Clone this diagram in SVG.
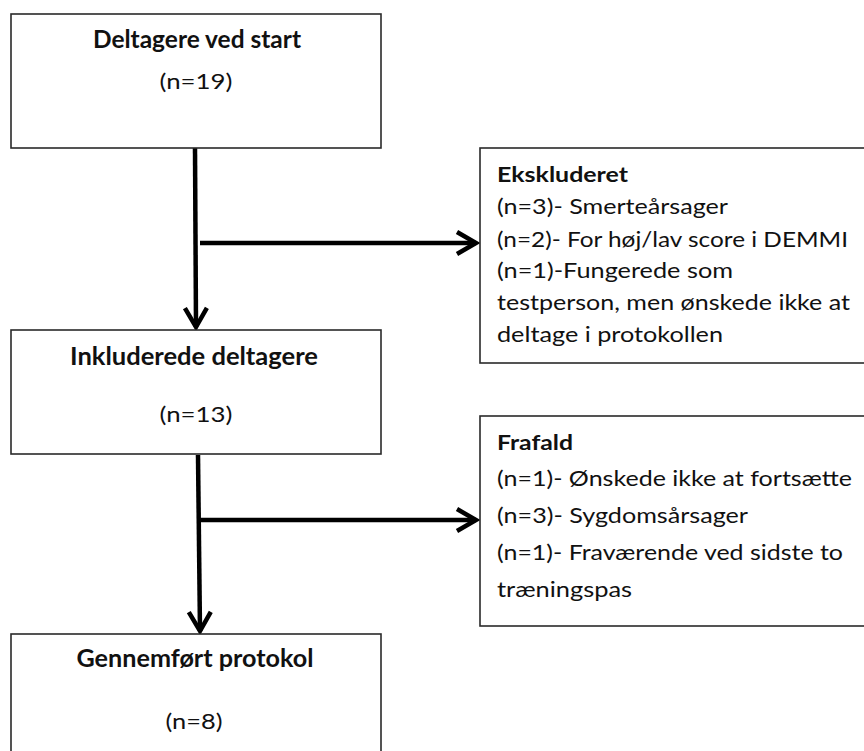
<svg xmlns="http://www.w3.org/2000/svg" width="864" height="751" viewBox="0 0 864 751">
<style>
.box{fill:#fff;stroke:#2a2a2a;stroke-width:1.6}
.t{font-family:Lato,"Liberation Sans",Arial,sans-serif;fill:#111}
.b{font-weight:bold}
.c{text-anchor:middle}
.conn{fill:none;stroke:#000;stroke-width:4.5}
</style>
<defs>
<marker id="ah" markerUnits="userSpaceOnUse" markerWidth="30" markerHeight="30" viewBox="-24 -15 28 30" refX="0" refY="0" orient="auto">
<path d="M-19,-11 L0,0 L-19,11" fill="none" stroke="#000" stroke-width="4.5" stroke-linejoin="miter"/>
</marker>
</defs>
<rect width="864" height="751" fill="#fff"/>
<g id="connectors">
<line class="conn" x1="195" y1="148" x2="196" y2="327" marker-end="url(#ah)"/>
<line class="conn" x1="200" y1="243" x2="476" y2="243" marker-end="url(#ah)"/>
<line class="conn" x1="198" y1="455" x2="200" y2="631" marker-end="url(#ah)"/>
<line class="conn" x1="200" y1="520" x2="476" y2="520" marker-end="url(#ah)"/>
</g>
<g id="start">
<rect class="box" x="11" y="14" width="370" height="134"/>
<text class="t b c" x="197" y="48" font-size="24" textLength="208" lengthAdjust="spacingAndGlyphs">Deltagere ved start</text>
<text class="t c" x="196" y="89" font-size="22" textLength="73" lengthAdjust="spacingAndGlyphs">(n=19)</text>
</g>
<g id="included">
<rect class="box" x="11" y="330" width="370" height="124"/>
<text class="t b c" x="194" y="365" font-size="24" textLength="248" lengthAdjust="spacingAndGlyphs">Inkluderede deltagere</text>
<text class="t c" x="196" y="422" font-size="22" textLength="73" lengthAdjust="spacingAndGlyphs">(n=13)</text>
</g>
<g id="completed">
<rect class="box" x="11" y="634" width="370" height="130"/>
<text class="t b c" x="195" y="667" font-size="24" textLength="237" lengthAdjust="spacingAndGlyphs">Gennemført protokol</text>
<text class="t c" x="194" y="729" font-size="22" textLength="57" lengthAdjust="spacingAndGlyphs">(n=8)</text>
</g>
<g id="excluded">
<rect class="box" x="480" y="148" width="390" height="215"/>
<text class="t b" x="497" y="182" font-size="21" textLength="131" lengthAdjust="spacingAndGlyphs">Ekskluderet</text>
<text class="t" x="497" y="214" font-size="21" textLength="231" lengthAdjust="spacingAndGlyphs">(n=3)- Smerteårsager</text>
<text class="t" x="497" y="247" font-size="21" textLength="351" lengthAdjust="spacingAndGlyphs">(n=2)- For høj/lav score i DEMMI</text>
<text class="t" x="497" y="278" font-size="21" textLength="236" lengthAdjust="spacingAndGlyphs">(n=1)-Fungerede som</text>
<text class="t" x="497" y="310" font-size="21" textLength="353" lengthAdjust="spacingAndGlyphs">testperson, men ønskede ikke at</text>
<text class="t" x="497" y="342" font-size="21" textLength="226" lengthAdjust="spacingAndGlyphs">deltage i protokollen</text>
</g>
<g id="dropout">
<rect class="box" x="480" y="416" width="390" height="210"/>
<text class="t b" x="497" y="450" font-size="21" textLength="76" lengthAdjust="spacingAndGlyphs">Frafald</text>
<text class="t" x="497" y="486" font-size="21" textLength="355" lengthAdjust="spacingAndGlyphs">(n=1)- Ønskede ikke at fortsætte</text>
<text class="t" x="497" y="523" font-size="21" textLength="251" lengthAdjust="spacingAndGlyphs">(n=3)- Sygdomsårsager</text>
<text class="t" x="497" y="560" font-size="21" textLength="346" lengthAdjust="spacingAndGlyphs">(n=1)- Fraværende ved sidste to</text>
<text class="t" x="497" y="597" font-size="21" textLength="135" lengthAdjust="spacingAndGlyphs">træningspas</text>
</g>
</svg>
